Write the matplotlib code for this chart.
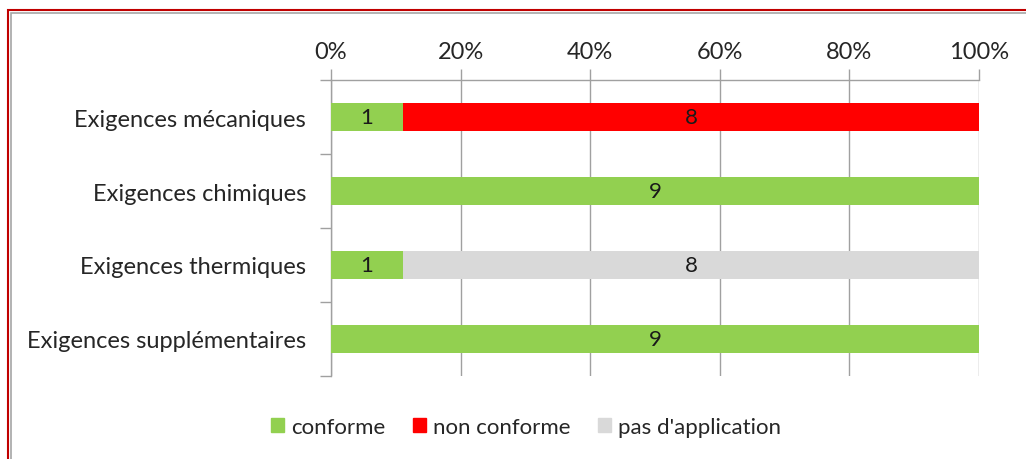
import matplotlib.pyplot as plt
import matplotlib.patches as mpatches
from matplotlib.ticker import PercentFormatter

categories = ['Exigences mécaniques', 'Exigences chimiques',
              'Exigences thermiques', 'Exigences supplémentaires']
conforme = [1, 9, 1, 9]
non_conforme = [8, 0, 0, 0]
pas_application = [0, 0, 8, 0]
series_names = ['conforme', 'non conforme', "pas d'application"]
colors = ['#92D050', '#FF0000', '#D9D9D9']
xticks = [0, 20, 40, 60, 80, 100]

plt.rcParams['font.family'] = ['Lato', 'DejaVu Sans']

fig = plt.figure(figsize=(10.26, 4.6), dpi=100)
ax = fig.add_axes([331 / 1026, 1 - 377 / 460, (979 - 331) / 1026, (377 - 81) / 460])

series = [conforme, non_conforme, pas_application]
totals = [sum(v) for v in zip(*series)]
ypos = list(range(len(categories)))
left = [0] * len(categories)
handles = []
for vals, name, col in zip(series, series_names, colors):
    pct = [v / t * 100 for v, t in zip(vals, totals)]
    bars = ax.barh(ypos, pct, left=left, height=0.39, color=col, zorder=3)
    for b, v, l, p in zip(bars, vals, left, pct):
        if v > 0:
            ax.text(l + p / 2, b.get_y() + b.get_height() / 2, str(v),
                    ha='center', va='center', fontsize=16, color='#1a1a1a', zorder=4)
    left = [a + b for a, b in zip(left, pct)]
    handles.append(mpatches.Patch(color=col, label=name))

ax.set_xlim(0, 100)
ax.set_ylim(len(categories) - 0.5, -0.5)
ax.xaxis.tick_top()
ax.set_xticks(xticks)
ax.xaxis.set_major_formatter(PercentFormatter(decimals=0))
ax.tick_params(axis='x', length=8, width=1, color='#A0A0A0', labelsize=17, pad=5,
               labelcolor='#262626')
ax.grid(axis='x', color='#A0A0A0', linewidth=1, zorder=0)

ax.set_yticks(ypos)
ax.set_yticklabels(categories)
ax.set_yticks([y - 0.5 for y in range(len(categories) + 1)], minor=True)
ax.tick_params(axis='y', which='major', length=0, labelsize=17, pad=18, labelcolor='#262626')
ax.tick_params(axis='y', which='minor', length=8, width=1, color='#A0A0A0')

for s in ['right', 'bottom']:
    ax.spines[s].set_visible(False)
for s in ['left', 'top']:
    ax.spines[s].set_color('#A0A0A0')
    ax.spines[s].set_linewidth(1)

fig.legend(handles=handles, loc='center', bbox_to_anchor=(526 / 1026, 1 - 428 / 460),
           ncol=3, frameon=False, fontsize=16, handlelength=0.6, handleheight=0.6,
           handletextpad=0.3, columnspacing=1.25, labelcolor='#262626')

# red frame around the chart area
fig.patches.append(mpatches.Rectangle((8 / 1026, -0.1), 1.2, 1 - 11 / 460 + 0.1,
                                      transform=fig.transFigure, fill=False,
                                      edgecolor='#C00000', linewidth=1.5))
fig.patches.append(mpatches.Rectangle((10.5 / 1026, -0.1), 1.2, 1 - 13.5 / 460 + 0.1,
                                      transform=fig.transFigure, fill=False,
                                      edgecolor='#A6A6A6', linewidth=1.2))

fig.savefig('out.png', dpi=100)
